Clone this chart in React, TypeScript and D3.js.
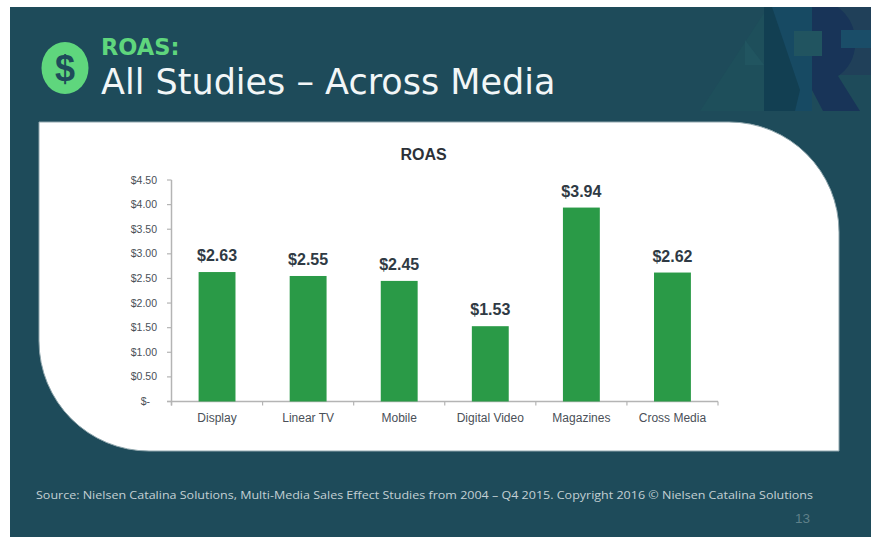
import React from "react";
import * as d3 from "d3";

const categories = ["Display", "Linear TV", "Mobile", "Digital Video", "Magazines", "Cross Media"];
const roasValues = [2.63, 2.55, 2.45, 1.53, 3.94, 2.62];
const tickValues = [0, 0.5, 1, 1.5, 2, 2.5, 3, 3.5, 4, 4.5];
const footnote = "Source: Nielsen Catalina Solutions, Multi-Media Sales Effect Studies from 2004 – Q4 2015. Copyright 2016 © Nielsen Catalina Solutions";

const WIDTH = 871;
const HEIGHT = 537;
const NAVY = "#1e4b5a";
const GREEN = "#2a9a47";
const AXIS = "#b4b4b4";
const LABEL = "#4a5058";
const SANS = "'Liberation Sans', Arial, sans-serif";
const TITLE = "'DejaVu Sans', sans-serif";
const SOURCE_FONT = "'Open Sans', sans-serif";

// White card: square corners except the large rounded top-right and bottom-left.
function cardPath(l: number, t: number, r: number, b: number, rad: number) {
  const p = d3.path();
  p.moveTo(l, t);
  p.lineTo(r - rad, t);
  p.arcTo(r, t, r, t + rad, rad);
  p.lineTo(r, b);
  p.lineTo(l + rad, b);
  p.arcTo(l, b, l, b - rad, rad);
  p.closePath();
  return p.toString();
}

export default function App() {
  const y = d3.scaleLinear().domain([0, 4.5]).range([401.5, 180]);
  const x = d3.scaleBand<string>().domain(categories).range([171.5, 718]).paddingInner(0.595).paddingOuter(0.2975);
  const step = x.step();

  return (
    <svg
      width={WIDTH}
      height={HEIGHT}
      viewBox={`0 0 ${WIDTH} ${HEIGHT}`}
      style={{ position: "absolute", left: 0, top: 0, display: "block", background: "#fff" }}
    >
      <rect x={10} y={7} width={WIDTH - 10} height={HEIGHT - 7} fill={NAVY} />

      {/* Watermark lettering in the top-right corner */}
      <g>
        <path d="M 700 111 L 768 7 L 765 111 Z" fill="#1e4f5b" />
        <path d="M 764 7 L 812 7 L 812 111 L 790 111 L 764 70 Z" fill="#174a63" />
        <path d="M 764 7 L 772 7 L 800 90 L 795 111 L 764 111 Z" fill="#123f52" />
        <path d="M 812 7 L 838 7 Q 858 20 855 50 Q 852 68 838 76 L 860 111 L 823 111 L 812 90 Z" fill="#183458" />
        <path d="M 838 7 L 871 7 L 871 75 L 840 75 Q 858 60 855 35 Q 852 18 838 7 Z" fill="#204059" />
        <path d="M 794 31 L 822 31 L 822 56 L 794 56 Z" fill="#215460" />
        <path d="M 841 30 L 871 30 L 871 48 L 841 48 Z" fill="#1a4d68" />
        <path d="M 745 40 L 764 65 L 745 65 Z" fill="#215560" />
      </g>

      {/* Heading with the dollar badge */}
      <ellipse cx={65} cy={68} rx={23.5} ry={26} fill="#5fd67d" />
      <text x={65} y={81} textAnchor="middle" fontFamily={SANS} fontWeight={700} fontSize={36} fill={NAVY}>
        $
      </text>
      <text x={101} y={55} fontFamily={TITLE} fontWeight={700} fontSize={22.5} fill="#5fd67d">
        ROAS:
      </text>
      <text x={101} y={94} fontFamily={TITLE} fontSize={35} fill="#f2f6f7">
        All Studies – Across Media
      </text>

      <path d={cardPath(39, 122, 839, 451, 110)} fill="#fff" stroke="#8fa6ad" strokeWidth={1} />

      <text x={423.5} y={160} textAnchor="middle" fontFamily={SANS} fontWeight={700} fontSize={16} fill="#2c3138">
        ROAS
      </text>

      {/* Value axis */}
      <line x1={171.5} x2={171.5} y1={y(4.5)} y2={y(0) + 4} stroke={AXIS} strokeWidth={1.5} />
      {tickValues.map((t) => (
        <g key={t}>
          <line x1={167} x2={171.5} y1={y(t)} y2={y(t)} stroke={AXIS} strokeWidth={1.2} />
          <text
            x={t === 0 ? 150 : 157}
            y={y(t) + 3.6}
            textAnchor="end"
            fontFamily={SANS}
            fontSize={10.5}
            fill={LABEL}
          >
            {t === 0 ? "$-" : d3.format("$.2f")(t)}
          </text>
        </g>
      ))}

      {/* Category axis */}
      <line x1={167} x2={718} y1={y(0)} y2={y(0)} stroke={AXIS} strokeWidth={1.5} />
      {d3.range(categories.length + 1).map((i) => (
        <line
          key={i}
          x1={171.5 + i * step}
          x2={171.5 + i * step}
          y1={y(0)}
          y2={y(0) + 4}
          stroke={AXIS}
          strokeWidth={1.2}
        />
      ))}

      {categories.map((c, i) => {
        const v = roasValues[i];
        const bx = x(c)!;
        const cx = bx + x.bandwidth() / 2;
        return (
          <g key={c}>
            <rect x={bx} y={y(v)} width={x.bandwidth()} height={y(0) - y(v)} fill={GREEN} />
            <text x={cx} y={y(v) - 11} textAnchor="middle" fontFamily={SANS} fontWeight={700} fontSize={16} fill="#2f3a44">
              {d3.format("$.2f")(v)}
            </text>
            <text x={cx} y={422} textAnchor="middle" fontFamily={SANS} fontSize={12} fill={LABEL}>
              {c}
            </text>
          </g>
        );
      })}

      <text x={36} y={499} fontFamily={SOURCE_FONT} fontSize={11.4} fill="#c3d0d4" textLength={777} lengthAdjust="spacingAndGlyphs">
        {footnote}
      </text>
      <text x={795} y={523} fontFamily={SANS} fontSize={13.5} fill="#5f8089">
        13
      </text>
    </svg>
  );
}
